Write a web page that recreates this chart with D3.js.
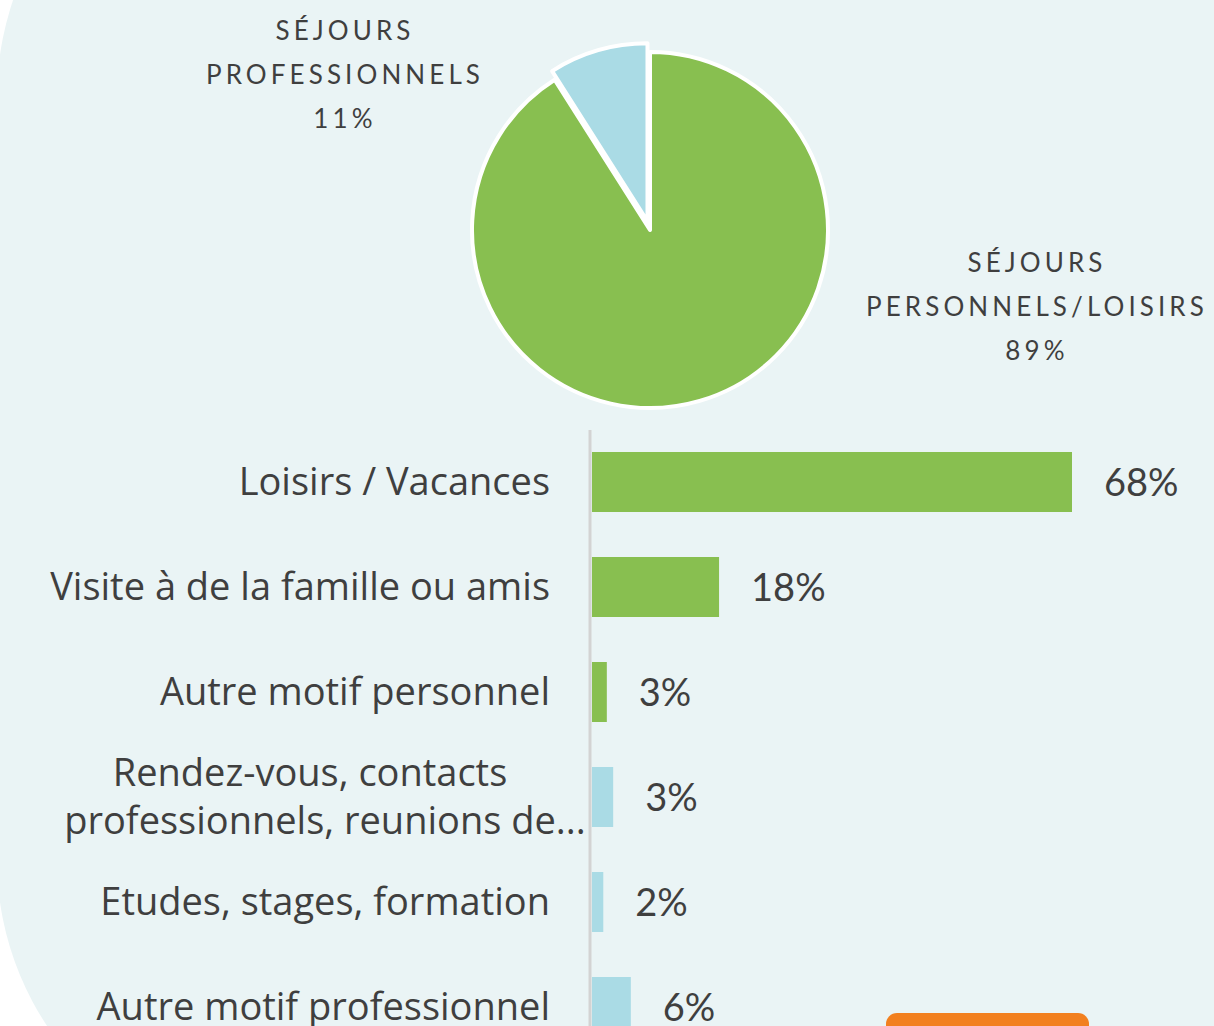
<!DOCTYPE html>
<html>
<head>
<meta charset="utf-8">
<script src="https://cdn.jsdelivr.net/npm/d3@7"></script>
<style>
  html, body { margin: 0; padding: 0; background: #fff; }
  svg { display: block; }
</style>
</head>
<body>
<div id="chart"></div>
<script>
// data
const pieGroups = ["SÉJOURS PERSONNELS/LOISIRS", "SÉJOURS PROFESSIONNELS"]
const pieShares = [91, 9]          // slice sizes as drawn
const pieLabels = [["SÉJOURS", "PERSONNELS/LOISIRS", "89%"], ["SÉJOURS", "PROFESSIONNELS", "11%"]]

const categories = [
    ["Loisirs / Vacances"],
    ["Visite à de la famille ou amis"],
    ["Autre motif personnel"],
    ["Rendez-vous, contacts", "professionnels, reunions de..."],
    ["Etudes, stages, formation"],
    ["Autre motif professionnel"]
]
const barValues = [68, 18, 2.1, 3, 1.6, 5.5]
const barLabels = ["68%", "18%", "3%", "3%", "2%", "6%"]
const barGroup = ["perso", "perso", "perso", "pro", "pro", "pro"]

const colors = {perso: "#88bf50", pro: "#aadbe5"}
const textColor = "#3f3f3f"

let width = 1214, height = 1026

let svg = d3.select("#chart").append("svg")
    .attr("width", width)
    .attr("height", height)

// background panel with big rounded left corners
svg.append("rect")
    .attr("x", -3).attr("y", -203)
    .attr("width", 3000).attr("height", 1363)
    .attr("rx", 300).attr("ry", 300)
    .attr("fill", "#eaf4f5")

// orange box peeking in at the bottom
svg.append("rect")
    .attr("x", 886).attr("y", 1013)
    .attr("width", 203).attr("height", 60)
    .attr("rx", 11)
    .attr("fill", "#f2801f")

// PIE
let radius = 178
let pieG = svg.append("g").attr("transform", "translate(650,230)")

// clockwise from 12 o'clock, so the small slice ends up just left of the top
let pie = d3.pie().sort(null)
    .startAngle(0).endAngle(2 * Math.PI)
let arc = d3.arc().innerRadius(0).outerRadius(radius)
let arcs = pie(pieShares)

pieG.selectAll("path").data(arcs).enter()
    .append("path")
    .attr("d", arc)
    .attr("fill", (d, i) => i === 0 ? colors.perso : colors.pro)
    .attr("stroke", "#fff")
    .attr("stroke-width", 4)
    .attr("stroke-linejoin", "round")
    .attr("transform", (d, i) => {
        if (i === 0) return null
        // pull the small slice out a bit
        let a = (d.startAngle + d.endAngle) / 2
        return "translate(" + (Math.sin(a) * 9) + "," + (-Math.cos(a) * 9) + ")"
    })

// pie labels
let pieLabelPos = [{x: 1037, y: 272}, {x: 345, y: 40}]
pieLabels.forEach((lines, i) => {
    let t = svg.append("text")
        .attr("text-anchor", "middle")
        .attr("font-family", "Lato, sans-serif")
        .attr("font-size", 26)
        .attr("letter-spacing", 4.1)
        .attr("fill", textColor)
    lines.forEach((l, j) => {
        t.append("tspan")
            .attr("x", pieLabelPos[i].x)
            .attr("y", pieLabelPos[i].y + j * 44)
            .text(l)
    })
})

// BARS
let x = d3.scaleLinear().domain([0, 68]).range([592, 1072])
let y = d3.scaleBand()
    .domain(d3.range(categories.length))
    .range([429.5, 1059.5])
    .paddingInner(0.4286)
    .paddingOuter(0.2143)

svg.selectAll(".bar").data(barValues).enter()
    .append("rect")
    .attr("class", "bar")
    .attr("x", x(0))
    .attr("y", (d, i) => y(i))
    .attr("width", d => x(d) - x(0))
    .attr("height", y.bandwidth())
    .attr("fill", (d, i) => colors[barGroup[i]])

// axis line
svg.append("line")
    .attr("x1", 590).attr("x2", 590)
    .attr("y1", 430).attr("y2", height)
    .attr("stroke", "#d3d3d3")
    .attr("stroke-width", 3)

// value labels
svg.selectAll(".val").data(barValues).enter()
    .append("text")
    .attr("class", "val")
    .attr("x", d => x(d) + 32)
    .attr("y", (d, i) => y(i) + y.bandwidth() / 2)
    .attr("dy", "0.36em")
    .attr("font-family", "Lato, sans-serif")
    .attr("font-size", 38)
    .attr("fill", textColor)
    .text((d, i) => barLabels[i])

// category labels
let wrapCenters = [310, 325]
categories.forEach((lines, i) => {
    let cy = y(i) + y.bandwidth() / 2
    let t = svg.append("text")
        .attr("font-family", "'Open Sans', sans-serif")
        .attr("font-size", 38)
        .attr("fill", textColor)
    if (lines.length === 1) {
        t.attr("text-anchor", "end")
            .attr("x", 550).attr("y", cy).attr("dy", "0.35em")
            .text(lines[0])
    } else {
        t.attr("text-anchor", "middle")
        lines.forEach((l, j) => {
            t.append("tspan")
                .attr("x", wrapCenters[j])
                .attr("y", cy + (j - 0.5) * 48)
                .attr("dy", "0.35em")
                .text(l)
        })
    }
})
</script>
</body>
</html>
